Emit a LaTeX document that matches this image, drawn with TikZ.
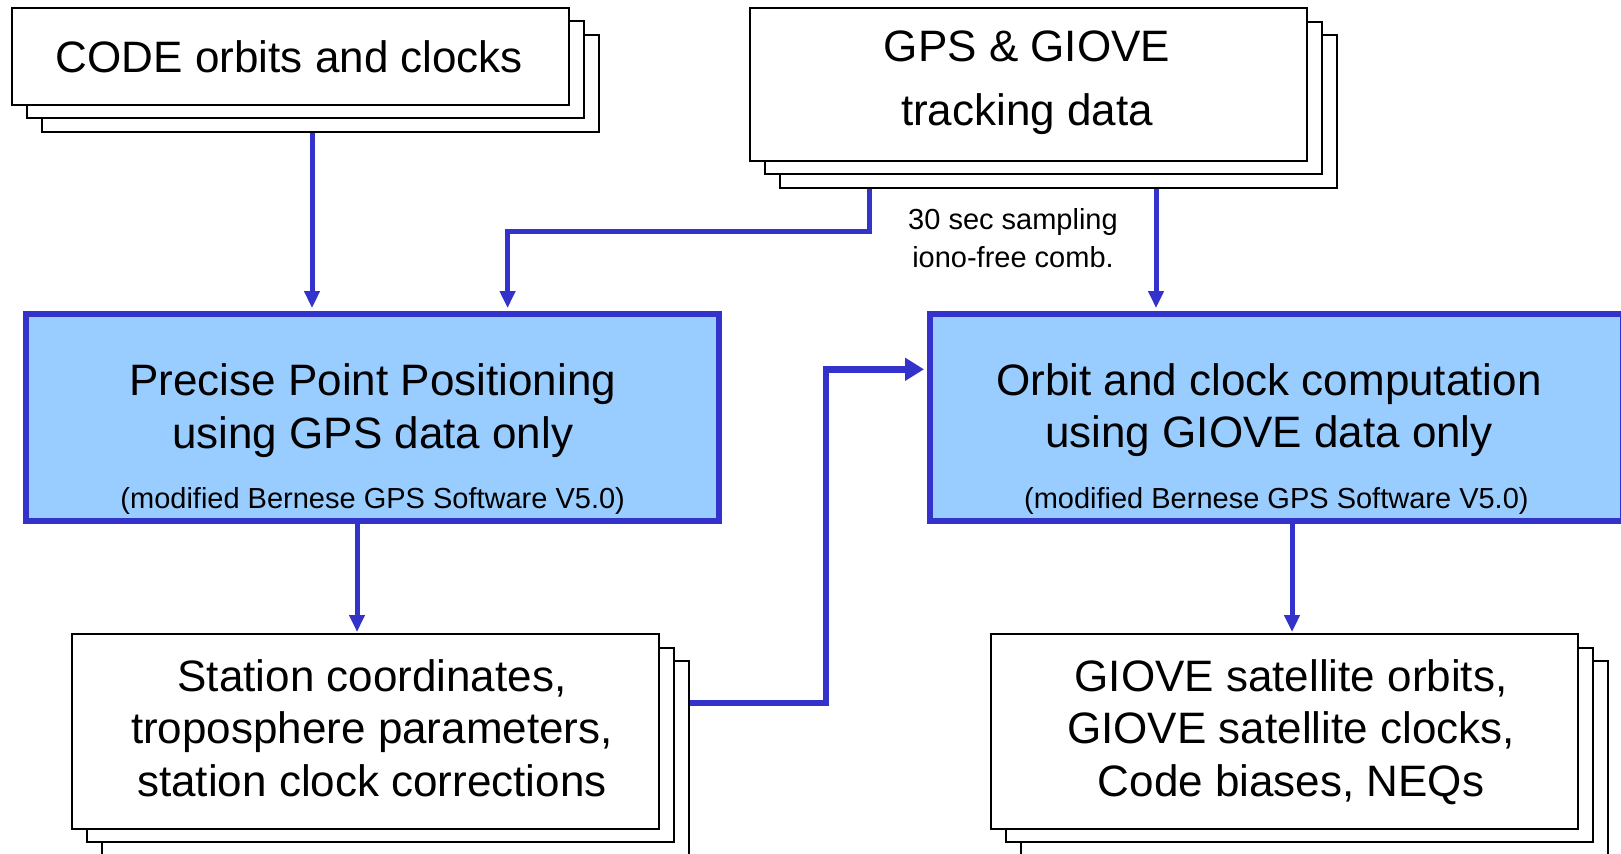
\documentclass[tikz,border=0pt]{standalone}
\usepackage{fontspec}
\setmainfont{Liberation Sans}
\usetikzlibrary{arrows.meta,shadows,backgrounds}

\definecolor{linkblue}{RGB}{51,51,204}
\definecolor{procblue}{RGB}{153,204,255}

\tikzset{
  stackbox/.style={draw=black, fill=white, line width=1pt, inner sep=0pt,
    copy shadow={shadow xshift=15.2pt, shadow yshift=-13.7pt, draw=black, fill=white, line width=1pt},
    copy shadow={shadow xshift=7.6pt, shadow yshift=-6.85pt, draw=black, fill=white, line width=1pt}},
  procbox/.style={draw=linkblue, fill=procblue, line width=3pt, inner sep=0pt,
    minimum width=346.35pt, minimum height=103.65pt},
  bigtxt/.style={font=\fontsize{22}{26.25}\selectfont, align=center, anchor=base, inner sep=0pt},
  smalltxt/.style={font=\fontsize{14.5}{19}\selectfont, align=center, anchor=base, inner sep=0pt},
  flow/.style={draw=linkblue, line width=2.5pt, -{Triangle[length=8.5pt,width=7.5pt]}},
  flowthick/.style={draw=linkblue, line width=3.2pt, -{Triangle[length=9.5pt,width=11pt]}},
}

\begin{document}
\begin{tikzpicture}[x=0.5pt, y=-0.5pt]
\useasboundingbox (0,0) rectangle (1621,853);
\clip (0,0) rectangle (1621,853);

% input data (base = last line)
\node[stackbox, minimum width=278.5pt, minimum height=48.5pt] (code) at (290,56) {};
\node[stackbox, minimum width=278.5pt, minimum height=76.25pt] (gps) at (1028,84.25) {};
\node[bigtxt] (code-txt) at (289.5,72.7) {CODE orbits and clocks};
\node[bigtxt, font=\fontsize{22}{32}\selectfont] (gps-txt) at (1027,125) {GPS \& GIOVE\\tracking data};
\node[smalltxt] (samp-txt) at (1013,267.3) {30 sec sampling\\iono-free comb.};

% processing
\node[procbox] (ppp) at (372.7,417.7) {};
\node[procbox] (orbit) at (1276.35,417.7) {};
\node[bigtxt] (ppp-txt) at (372.7,448) {Precise Point Positioning\\using GPS data only};
\node[smalltxt] (ppp-sw) at (372.7,508) {(modified Bernese GPS Software V5.0)};
\node[bigtxt] (orbit-txt) at (1269,447.5) {Orbit and clock computation\\using GIOVE data only};
\node[smalltxt] (orbit-sw) at (1276.35,508) {(modified Bernese GPS Software V5.0)};

% results
\node[stackbox, minimum width=293.5pt, minimum height=97.25pt] (station) at (365,731.25) {};
\node[stackbox, minimum width=293.5pt, minimum height=97.25pt] (giove) at (1284,731.25) {};
\node[bigtxt] (station-txt) at (372,796) {Station coordinates,\\troposphere parameters,\\station clock corrections};
\node[bigtxt] (giove-txt) at (1291,796) {GIOVE satellite orbits,\\GIOVE satellite clocks,\\Code biases, NEQs};

\begin{scope}[on background layer]
\draw[flow, shorten >=1.5pt] ([xshift=11pt]code.south) -- ([xshift=11pt]code.south |- ppp.north);
\draw[flow, shorten >=1.5pt] ([xshift=-79.5pt]gps.south) -- ++(0,69.5) -| ([xshift=67.45pt]ppp.north);
\draw[flow, shorten >=1.5pt] ([xshift=64pt]gps.south) -- ([xshift=64pt]gps.south |- orbit.north);
\draw[flow, shorten >=0.5pt] ([xshift=-7.85pt]ppp.south) -- ([xshift=-7.85pt]ppp.south |- station.north);
\draw[flow, shorten >=0.5pt] ([xshift=7.83pt]orbit.south) -- ([xshift=7.83pt]orbit.south |- giove.north);
\draw[flowthick, shorten >=1.5pt] ([yshift=14.1pt]station.east) -- ++(166.5,0) |- ([yshift=24.2pt]orbit.west);
\end{scope}
\end{tikzpicture}
\end{document}
